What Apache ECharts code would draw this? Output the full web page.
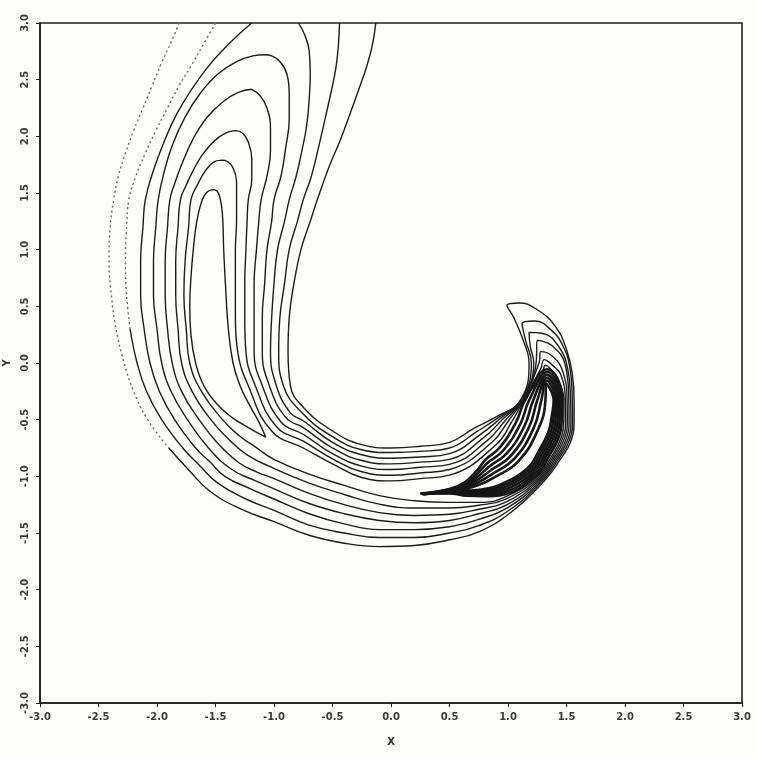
<!DOCTYPE html>
<html><head><meta charset="utf-8">
<script src="https://cdn.jsdelivr.net/npm/echarts/dist/echarts.min.js"></script>
<style>html,body{margin:0;padding:0;background:#fdfdfc}#c{width:757px;height:758px}</style>
</head><body><div id="c"></div>
<script>
// axis ticks
const xTicks = [-3.0,-2.5,-2.0,-1.5,-1.0,-0.5,0.0,0.5,1.0,1.5,2.0,2.5,3.0];
const yTicks = [-3.0,-2.5,-2.0,-1.5,-1.0,-0.5,0.0,0.5,1.0,1.5,2.0,2.5,3.0];

// contour lines, outermost (L1) to innermost
// faint (dotted in the scan) upper-left parts of the two outer contours
const contourL1Faint = [[-1.81,3.0],[-1.88,2.83],[-1.96,2.65],[-2.04,2.45],[-2.12,2.25],[-2.20,2.05],[-2.27,1.85],[-2.33,1.65],[-2.37,1.44],[-2.40,1.2],[-2.41,0.9],[-2.39,0.6],[-2.35,0.3],[-2.28,0.0],[-2.20,-0.25],[-2.08,-0.5],[-1.90,-0.75]];
const contourL1 = [[-1.90,-0.75],[-1.74,-0.93],[-1.55,-1.13],[-1.28,-1.29],[-1.0,-1.40],[-0.7,-1.52],[-0.4,-1.59],[-0.1,-1.62],[0.2,-1.61],[0.5,-1.56],[0.75,-1.49],[1.029,-1.315],[1.311,-1.039],[1.437,-0.866],[1.542,-0.677],[1.565,-0.5],[1.565,-0.33],[1.55,-0.1],[1.5,0.12],[1.4,0.33],[1.25,0.47],[1.1,0.53],[0.99,0.51],[1.05,0.40],[1.13,0.2],[1.18,0.0],[1.105,-0.33],[0.901,-0.474],[0.701,-0.582],[0.5,-0.70],[0.25,-0.735],[0,-0.75],[-0.25,-0.72],[-0.5,-0.60],[-0.75,-0.39],[-0.86,-0.2],[-0.88,0.1],[-0.87,0.4],[-0.83,0.7],[-0.77,1.0],[-0.69,1.25],[-0.63,1.44],[-0.53,1.73],[-0.44,1.95],[-0.36,2.17],[-0.28,2.4],[-0.21,2.61],[-0.16,2.8],[-0.13,3.0]];
const contourL2Faint = [[-1.5,3.0],[-1.61,2.8],[-1.71,2.62],[-1.81,2.45],[-1.91,2.25],[-2.01,2.05],[-2.10,1.85],[-2.18,1.65],[-2.24,1.44],[-2.26,1.2],[-2.27,0.9],[-2.26,0.6],[-2.23,0.3]];
const contourL2 = [[-2.23,0.3],[-2.17,0.0],[-2.09,-0.25],[-1.96,-0.5],[-1.78,-0.75],[-1.64,-0.90],[-1.48,-1.06],[-1.24,-1.20],[-1.0,-1.30],[-0.7,-1.43],[-0.4,-1.50],[-0.1,-1.54],[0.2,-1.54],[0.5,-1.50],[0.75,-1.435],[1.018,-1.293],[1.301,-1.032],[1.425,-0.86],[1.528,-0.672],[1.552,-0.5],[1.55,-0.33],[1.53,-0.05],[1.47,0.15],[1.37,0.29],[1.23,0.37],[1.12,0.35],[1.15,0.2],[1.20,0.0],[1.11,-0.33],[0.920,-0.480],[0.733,-0.606],[0.5,-0.75],[0.25,-0.78],[0,-0.79],[-0.25,-0.765],[-0.5,-0.65],[-0.75,-0.45],[-0.92,-0.2],[-0.96,0.1],[-0.95,0.4],[-0.91,0.7],[-0.87,1.0],[-0.80,1.25],[-0.75,1.44],[-0.68,1.65],[-0.62,1.9],[-0.56,2.17],[-0.51,2.4],[-0.47,2.61],[-0.45,2.8],[-0.44,3.0]];
const contourL3 = [[-1.19,3.0],[-1.30,2.9],[-1.42,2.78],[-1.56,2.62],[-1.70,2.42],[-1.83,2.2],[-1.94,1.95],[-2.03,1.7],[-2.10,1.44],[-2.12,1.2],[-2.14,0.9],[-2.14,0.6],[-2.11,0.3],[-2.06,0.0],[-1.98,-0.25],[-1.85,-0.5],[-1.67,-0.75],[-1.55,-0.87],[-1.42,-1.00],[-1.20,-1.11],[-1.0,-1.20],[-0.7,-1.33],[-0.4,-1.42],[-0.1,-1.47],[0.2,-1.47],[0.5,-1.445],[0.75,-1.38],[1.008,-1.27],[1.292,-1.025],[1.413,-0.855],[1.514,-0.668],[1.538,-0.5],[1.535,-0.33],[1.51,-0.05],[1.43,0.15],[1.30,0.26],[1.18,0.27],[1.19,0.15],[1.22,0.0],[1.113,-0.33],[0.939,-0.486],[0.765,-0.630],[0.5,-0.80],[0.25,-0.83],[0,-0.84],[-0.25,-0.81],[-0.5,-0.70],[-0.75,-0.51],[-0.86,-0.44],[-0.98,-0.2],[-1.03,0.1],[-1.02,0.4],[-1.00,0.7],[-0.97,1.0],[-0.91,1.25],[-0.87,1.44],[-0.81,1.65],[-0.76,1.88],[-0.72,2.1],[-0.70,2.32],[-0.69,2.55],[-0.70,2.76],[-0.74,2.9],[-0.79,3.0]];
const contourL4 = [[-1.08,2.72],[-1.18,2.71],[-1.32,2.66],[-1.48,2.55],[-1.63,2.38],[-1.76,2.17],[-1.87,1.92],[-1.94,1.68],[-1.99,1.44],[-2.01,1.2],[-2.03,0.9],[-2.03,0.6],[-2.00,0.3],[-1.96,0.0],[-1.88,-0.25],[-1.74,-0.5],[-1.56,-0.75],[-1.36,-0.94],[-1.18,-1.03],[-1.0,-1.11],[-0.7,-1.24],[-0.4,-1.33],[-0.1,-1.39],[0.2,-1.41],[0.5,-1.39],[0.75,-1.33],[0.997,-1.248],[1.283,-1.019],[1.402,-0.849],[1.500,-0.663],[1.522,-0.5],[1.52,-0.33],[1.49,-0.02],[1.38,0.15],[1.25,0.2],[1.24,0.0],[1.117,-0.33],[0.958,-0.492],[0.797,-0.654],[0.5,-0.85],[0.25,-0.875],[0,-0.89],[-0.25,-0.86],[-0.5,-0.75],[-0.75,-0.57],[-0.90,-0.48],[-1.04,-0.2],[-1.10,0.1],[-1.10,0.4],[-1.08,0.7],[-1.06,1.0],[-1.02,1.25],[-1.00,1.44],[-0.94,1.65],[-0.90,1.9],[-0.87,2.15],[-0.87,2.38],[-0.89,2.55],[-0.95,2.66],[-1.02,2.71],[-1.08,2.72]];
const contourL5 = [[-1.19,2.415],[-1.30,2.39],[-1.43,2.31],[-1.57,2.17],[-1.69,1.98],[-1.79,1.75],[-1.85,1.58],[-1.89,1.44],[-1.91,1.2],[-1.93,0.9],[-1.93,0.6],[-1.91,0.3],[-1.87,0.0],[-1.79,-0.25],[-1.64,-0.5],[-1.48,-0.71],[-1.30,-0.88],[-1.15,-0.96],[-1.0,-1.02],[-0.7,-1.15],[-0.4,-1.25],[-0.1,-1.32],[0.2,-1.345],[0.5,-1.335],[0.75,-1.29],[0.986,-1.225],[1.275,-1.012],[1.39,-0.844],[1.485,-0.659],[1.507,-0.5],[1.505,-0.33],[1.47,-0.08],[1.38,0.06],[1.28,0.1],[1.265,0.0],[1.122,-0.33],[0.982,-0.500],[0.829,-0.678],[0.5,-0.895],[0.25,-0.92],[0,-0.94],[-0.25,-0.91],[-0.5,-0.80],[-0.75,-0.63],[-0.94,-0.52],[-1.10,-0.2],[-1.17,0.1],[-1.17,0.4],[-1.17,0.7],[-1.15,1.0],[-1.13,1.25],[-1.11,1.44],[-1.06,1.65],[-1.03,1.87],[-1.03,2.07],[-1.06,2.25],[-1.12,2.36],[-1.19,2.415]];
const contourL6 = [[-1.33,2.05],[-1.41,2.03],[-1.51,1.96],[-1.61,1.84],[-1.69,1.70],[-1.75,1.57],[-1.80,1.44],[-1.82,1.2],[-1.84,0.9],[-1.84,0.6],[-1.82,0.3],[-1.79,0.0],[-1.70,-0.25],[-1.54,-0.5],[-1.39,-0.67],[-1.23,-0.81],[-1.0,-0.93],[-0.7,-1.06],[-0.4,-1.16],[-0.1,-1.245],[0.2,-1.28],[0.5,-1.28],[0.75,-1.255],[0.975,-1.203],[1.266,-1.006],[1.379,-0.838],[1.471,-0.654],[1.492,-0.5],[1.49,-0.33],[1.45,-0.1],[1.38,-0.02],[1.31,0.03],[1.28,-0.05],[1.128,-0.33],[1.006,-0.507],[0.861,-0.702],[0.5,-0.94],[0.25,-0.97],[0,-0.99],[-0.25,-0.96],[-0.5,-0.845],[-0.75,-0.69],[-0.98,-0.56],[-1.16,-0.2],[-1.24,0.1],[-1.25,0.4],[-1.25,0.7],[-1.24,1.0],[-1.23,1.25],[-1.22,1.44],[-1.19,1.62],[-1.19,1.8],[-1.22,1.95],[-1.27,2.03],[-1.33,2.05]];
const contourL7 = [[-1.45,1.79],[-1.52,1.77],[-1.59,1.69],[-1.65,1.58],[-1.71,1.44],[-1.73,1.2],[-1.76,0.9],[-1.77,0.6],[-1.75,0.3],[-1.72,0.0],[-1.62,-0.25],[-1.44,-0.5],[-1.30,-0.64],[-1.16,-0.74],[-1.0,-0.85],[-0.7,-0.98],[-0.4,-1.08],[-0.1,-1.17],[0.2,-1.215],[0.5,-1.23],[0.75,-1.23],[0.967,-1.185],[1.257,-0.999],[1.367,-0.833],[1.457,-0.650],[1.477,-0.5],[1.478,-0.33],[1.43,-0.15],[1.37,-0.06],[1.32,-0.02],[1.29,-0.1],[1.135,-0.33],[1.034,-0.516],[0.893,-0.726],[0.5,-0.99],[0.25,-1.02],[0,-1.04],[-0.25,-1.01],[-0.5,-0.89],[-0.75,-0.75],[-1.02,-0.60],[-1.22,-0.2],[-1.31,0.1],[-1.33,0.4],[-1.33,0.7],[-1.33,1.0],[-1.32,1.25],[-1.32,1.44],[-1.32,1.6],[-1.35,1.72],[-1.40,1.78],[-1.45,1.79]];
const contourTop = [[-1.53,1.53],[-1.58,1.50],[-1.62,1.42],[-1.66,1.25],[-1.69,1.0],[-1.71,0.75],[-1.72,0.5],[-1.71,0.25],[-1.67,0.0],[-1.60,-0.2],[-1.49,-0.36],[-1.36,-0.48],[-1.22,-0.57],[-1.07,-0.655],[-1.13,-0.52],[-1.21,-0.37],[-1.29,-0.2],[-1.35,0.0],[-1.39,0.3],[-1.41,0.6],[-1.43,1.0],[-1.44,1.3],[-1.46,1.45],[-1.49,1.52],[-1.53,1.53]];
const contourR1 = [[0.25,-1.152],[0.5,-1.15],[0.648,-1.172],[0.807,-1.176],[0.956,-1.162],[1.245,-0.990],[1.35,-0.823],[1.438,-0.644],[1.46,-0.49],[1.465,-0.33],[1.335,-0.055],[1.145,-0.33],[1.067,-0.527],[0.925,-0.750],[0.808,-0.852],[0.735,-0.948],[0.630,-1.053],[0.5,-1.112],[0.25,-1.152]];
const contourR2 = [[0.256,-1.154],[0.5,-1.146],[0.647,-1.164],[0.803,-1.163],[0.948,-1.146],[1.229,-0.978],[1.332,-0.814],[1.419,-0.638],[1.442,-0.49],[1.45,-0.33],[1.334,-0.08],[1.18,-0.33],[1.105,-0.539],[0.957,-0.774],[0.823,-0.883],[0.743,-0.971],[0.632,-1.065],[0.5,-1.116],[0.256,-1.154]];
const contourR3 = [[0.262,-1.155],[0.5,-1.142],[0.645,-1.155],[0.799,-1.151],[0.940,-1.130],[1.213,-0.966],[1.315,-0.805],[1.400,-0.632],[1.425,-0.485],[1.435,-0.33],[1.332,-0.105],[1.215,-0.33],[1.143,-0.551],[0.989,-0.798],[0.838,-0.915],[0.750,-0.995],[0.633,-1.076],[0.5,-1.119],[0.262,-1.155]];
const contourR4 = [[0.268,-1.157],[0.5,-1.139],[0.644,-1.146],[0.795,-1.138],[0.933,-1.113],[1.197,-0.954],[1.297,-0.796],[1.381,-0.626],[1.408,-0.48],[1.42,-0.33],[1.33,-0.13],[1.25,-0.33],[1.181,-0.563],[1.021,-0.822],[0.853,-0.946],[0.758,-1.019],[0.635,-1.088],[0.5,-1.122],[0.268,-1.157]];
const contourR5 = [[0.274,-1.158],[0.5,-1.136],[0.643,-1.137],[0.791,-1.126],[0.925,-1.097],[1.181,-0.942],[1.279,-0.787],[1.362,-0.620],[1.39,-0.478],[1.405,-0.33],[1.327,-0.155],[1.285,-0.33],[1.219,-0.575],[1.053,-0.846],[0.868,-0.978],[0.765,-1.043],[0.637,-1.100],[0.5,-1.125],[0.274,-1.158]];
const contourR6 = [[0.28,-1.16],[0.5,-1.133],[0.641,-1.128],[0.788,-1.114],[0.917,-1.081],[1.165,-0.930],[1.262,-0.778],[1.343,-0.614],[1.373,-0.475],[1.39,-0.33],[1.325,-0.18],[1.32,-0.33],[1.257,-0.587],[1.085,-0.870],[0.883,-1.009],[0.773,-1.066],[0.639,-1.112],[0.5,-1.128],[0.28,-1.16]];

const faintContours = [contourL1Faint,contourL2Faint];
const outerContours = [contourL1,contourL2,contourL3,contourL4,contourL5,contourL6,contourL7,contourTop];
const innerContours = [contourR1,contourR2,contourR3,contourR4,contourR5,contourR6];

const chart = echarts.init(document.getElementById('c'), null, {renderer:'canvas'});
const labelStyle = {fontSize:10,fontWeight:'bold',color:'#3a3a3a',fontFamily:'DejaVu Sans',formatter:v=>v.toFixed(1)};
const mkSeries = (d,w,c,t)=>({type:'line',data:d,smooth:0.45,symbol:'none',clip:true,silent:true,
  lineStyle:{color:c,width:w,type:t}});
chart.setOption({
  animation:false,
  backgroundColor:'#fdfdfc',
  grid:{left:40,right:15,top:23,bottom:55,containLabel:false,outerBoundsMode:'none',show:true,borderColor:'#1e1e1e',borderWidth:1.6,backgroundColor:'transparent'},
  xAxis:{type:'value',min:xTicks[0],max:xTicks[xTicks.length-1],interval:0.5,
    name:'X',nameLocation:'middle',nameGap:34,nameTextStyle:{fontSize:10,fontWeight:'bold',color:'#333',fontFamily:'DejaVu Sans'},
    axisLine:{show:true,onZero:false,lineStyle:{color:'#1e1e1e',width:1.6}},
    axisTick:{show:true,inside:false,length:4,lineStyle:{color:'#1e1e1e'}},
    axisLabel:Object.assign({margin:9},labelStyle),splitLine:{show:false}},
  yAxis:{type:'value',min:yTicks[0],max:yTicks[yTicks.length-1],interval:0.5,
    name:'Y',nameLocation:'middle',nameGap:26,nameRotate:90,nameTextStyle:{fontSize:10,fontWeight:'bold',color:'#333',fontFamily:'DejaVu Sans'},
    axisLine:{show:true,onZero:false,lineStyle:{color:'#1e1e1e',width:1.6}},
    axisTick:{show:true,inside:false,length:4,lineStyle:{color:'#1e1e1e'}},
    axisLabel:Object.assign({margin:10,rotate:90},labelStyle),splitLine:{show:false}},
  series: faintContours.map(d=>mkSeries(d,1.4,'#6a6a6a',[2,3]))
    .concat(outerContours.map(d=>mkSeries(d,1.4,'#1c1c1c','solid')))
    .concat(innerContours.map(d=>mkSeries(d,2.6,'#161616','solid')))
});
</script></body></html>
